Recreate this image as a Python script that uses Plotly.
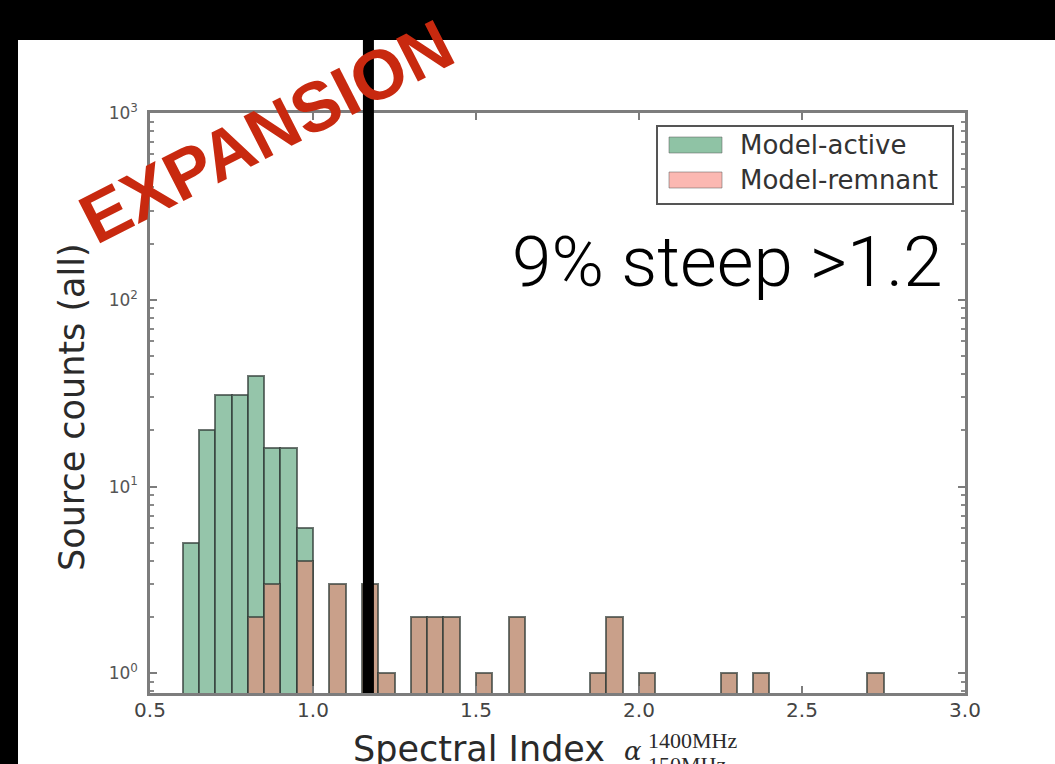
import plotly.graph_objects as go

# Histogram of spectral indices: counts per 0.05-wide bin (bin left edges)
bin_width = 0.05
active_bins = [0.60, 0.65, 0.70, 0.75, 0.80, 0.85, 0.90, 0.95]
active_counts = [5, 20, 31, 31, 39, 16, 16, 6]
remnant_bins = [0.80, 0.85, 0.95, 1.05, 1.15, 1.20, 1.30, 1.35, 1.40,
                1.50, 1.60, 1.85, 1.90, 2.00, 2.25, 2.35, 2.70]
remnant_counts = [2, 3, 4, 3, 3, 1, 2, 2, 2, 1, 2, 1, 2, 1, 1, 1, 1]

steep_cut = 1.17
x_ticks = [0.5, 1.0, 1.5, 2.0, 2.5, 3.0]
x_tick_text = ["0.5", "1.0", "1.5", "2.0", "2.5", "3.0"]
y_ticks = [1, 10, 100, 1000]
y_tick_text = ["10<sup>0</sup>", "10<sup>1</sup>", "10<sup>2</sup>", "10<sup>3</sup>"]
legend_labels = ["Model-active", "Model-remnant"]

# colours
ACTIVE = "#95c5aa"
REMNANT = "#c9a08a"
LEG_ACTIVE = "#8fc3a5"
LEG_REMNANT = "#fbb8b2"
EDGE = "rgba(50,60,55,0.7)"

# page geometry (pixels)
FIG_W, FIG_H = 1055, 764
L, R, T, B = 150, 965, 113, 693
PW, PH = R - L, B - T


def px_x(p):
    return (p - L) / PW


def px_y(p):
    return (B - p) / PH


fig = go.Figure()
fig.add_trace(go.Bar(
    x=[b + bin_width / 2 for b in active_bins], y=active_counts, width=bin_width,
    marker=dict(color=ACTIVE, line=dict(color=EDGE, width=2)),
    name=legend_labels[0], showlegend=False))
fig.add_trace(go.Bar(
    x=[b + bin_width / 2 for b in remnant_bins], y=remnant_counts, width=bin_width,
    marker=dict(color=REMNANT, line=dict(color=EDGE, width=2)),
    name=legend_labels[1], showlegend=False))

axis_common = dict(
    showline=True, linecolor="#7d7d7d", linewidth=2.5, mirror="allticks",
    ticks="inside", tickcolor="#7d7d7d", ticklen=7, tickwidth=1.5,
    showgrid=False, zeroline=False,
)

fig.update_xaxes(range=[0.5, 3.0], tickvals=x_ticks, ticktext=x_tick_text,
                 ticklabelstandoff=-3,
                 tickfont=dict(family="DejaVu Sans", size=20, color="#444"),
                 **axis_common)

minor_vals = [m * 10 ** e for e in range(-1, 3) for m in range(2, 10)]
fig.update_yaxes(type="log", range=[-0.105, 3], tickvals=y_ticks, ticktext=y_tick_text,
                 ticklabelstandoff=6,
                 tickfont=dict(family="DejaVu Sans", size=17, color="#555"),
                 minor=dict(tickvals=minor_vals, ticks="inside", ticklen=4,
                            tickcolor="#8a8a8a", showgrid=False),
                 **axis_common)

shapes = []
# black slide frame on the left and top
shapes.append(dict(type="rect", xref="paper", yref="paper", layer="above",
                   x0=px_x(-5), x1=px_x(18), y0=px_y(FIG_H + 5), y1=px_y(-5),
                   fillcolor="black", line=dict(width=0)))
shapes.append(dict(type="rect", xref="paper", yref="paper", layer="above",
                   x0=px_x(-5), x1=px_x(FIG_W + 5), y0=px_y(40), y1=px_y(-5),
                   fillcolor="black", line=dict(width=0)))
# steepness cut
shapes.append(dict(type="line", xref="x", yref="paper", layer="above",
                   x0=steep_cut, x1=steep_cut, y0=0, y1=px_y(0),
                   line=dict(color="black", width=11)))

# legend box drawn by hand
shapes.append(dict(type="rect", xref="paper", yref="paper", layer="above",
                   x0=px_x(657), x1=px_x(953), y0=px_y(204), y1=px_y(126),
                   fillcolor="white", line=dict(color="#555", width=2)))
annotations = []
for i, (lab, col) in enumerate(zip(legend_labels, [LEG_ACTIVE, LEG_REMNANT])):
    cy = 145 + 35 * i
    shapes.append(dict(type="rect", xref="paper", yref="paper", layer="above",
                       x0=px_x(669), x1=px_x(722), y0=px_y(cy + 8), y1=px_y(cy - 8),
                       fillcolor=col, line=dict(color="rgba(90,90,90,0.5)", width=1)))
    annotations.append(dict(xref="paper", yref="paper", x=px_x(738), y=px_y(cy),
                            xanchor="left", yanchor="middle", showarrow=False, text=lab,
                            font=dict(family="DejaVu Sans", size=26, color="#333")))

# axis titles
annotations.append(dict(xref="paper", yref="paper", x=px_x(72), y=px_y(407),
                        textangle=-90, showarrow=False, xanchor="center", yanchor="middle",
                        text="Source counts (all)",
                        font=dict(family="DejaVu Sans", size=35, color="#2a2a2a")))
annotations.append(dict(xref="paper", yref="paper", x=px_x(351), y=px_y(749),
                        showarrow=False, xanchor="left", yanchor="middle",
                        text="Spectral Index",
                        font=dict(family="DejaVu Sans", size=35, color="#2a2a2a")))
annotations.append(dict(xref="paper", yref="paper", x=px_x(622), y=px_y(751),
                        showarrow=False, xanchor="left", yanchor="middle",
                        text="<i>α</i>",
                        font=dict(family="DejaVu Serif", size=26, color="#2a2a2a")))
annotations.append(dict(xref="paper", yref="paper", x=px_x(646), y=px_y(740),
                        showarrow=False, xanchor="left", yanchor="middle",
                        text="1400MHz",
                        font=dict(family="Liberation Serif", size=22, color="#2a2a2a")))
annotations.append(dict(xref="paper", yref="paper", x=px_x(646), y=px_y(764),
                        showarrow=False, xanchor="left", yanchor="middle",
                        text="150MHz",
                        font=dict(family="Liberation Serif", size=22, color="#2a2a2a")))

# slide overlays
annotations.append(dict(xref="paper", yref="paper", x=px_x(727), y=px_y(261),
                        showarrow=False, xanchor="center", yanchor="middle",
                        text="9% steep >1.2",
                        font=dict(family="Roboto", size=71, color="black", weight=300)))
annotations.append(dict(xref="paper", yref="paper", x=px_x(266), y=px_y(132),
                        showarrow=False, xanchor="center", yanchor="middle",
                        textangle=-27, text="EXPANSION",
                        font=dict(family="Liberation Sans", size=70, color="#c8290f",
                                  weight="bold")))

fig.update_layout(
    width=FIG_W, height=FIG_H,
    margin=dict(l=L, r=FIG_W - R, t=T, b=FIG_H - B),
    paper_bgcolor="white", plot_bgcolor="white",
    barmode="overlay", bargap=0, showlegend=False,
    shapes=shapes, annotations=annotations,
)

fig.write_html("out.html")
